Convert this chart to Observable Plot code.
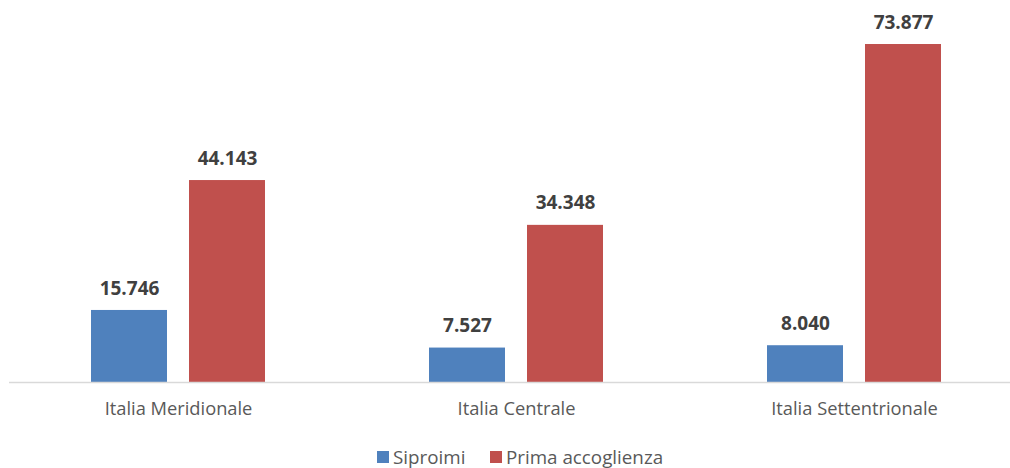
<!DOCTYPE html>
<html><head><meta charset="utf-8">
<script src="https://cdn.jsdelivr.net/npm/d3@7"></script>
<script src="https://cdn.jsdelivr.net/npm/@observablehq/plot@0.6"></script>
<style>
body{margin:0;background:#fff;width:1010px;height:468px;overflow:hidden;font-family:"Open Sans",sans-serif;}
#legend{position:relative;height:22px;font-size:18.8px;color:#595959;}
#legend .item{position:absolute;top:0;display:flex;align-items:center;height:22px;}
#legend .sw{width:12px;height:12px;display:inline-block;margin-right:4px;}
</style>
</head><body>
<div id="chart"></div>
<div id="legend"></div>
<script>
const regions = ["Italia Meridionale", "Italia Centrale", "Italia Settentrionale"];
const series = ["Siproimi", "Prima accoglienza"];
const siproimi = [15746, 7527, 8040];
const primaAccoglienza = [44143, 34348, 73877];
const colors = ["#4F81BD", "#C0504D"];

const data = regions.flatMap((r, i) => [
  {region: r, series: series[0], value: siproimi[i]},
  {region: r, series: series[1], value: primaAccoglienza[i]}
]);
const fmt = d3.formatLocale({decimal: ",", thousands: ".", grouping: [3], currency: ["", "€"]}).format(",");
const font = '"Open Sans",sans-serif';

const chart = Plot.plot({
  width: 1010,
  height: 446,
  marginTop: 16,
  marginBottom: 64,
  marginLeft: 9,
  marginRight: 0,
  style: {fontFamily: font, background: "#fff", overflow: "visible"},
  fx: {domain: regions, range: [9, 1023], padding: 0, label: null, axis: null},
  x: {domain: series, paddingInner: 0.228, paddingOuter: 0.835, axis: null},
  y: {domain: [0, 80000], axis: null},
  color: {domain: series, range: colors},
  marks: [
    Plot.axisFx({anchor: "bottom", tickSize: 0, tickPadding: 19, fontSize: 18.3, fill: "#595959", label: null}),
    Plot.barY(data, {fx: "region", x: "series", y: "value", fill: "series"}),
    Plot.ruleY([0], {stroke: "#d9d9d9", strokeWidth: 1.5}),
    Plot.text(data, {fx: "region", x: "series", y: "value", text: d => fmt(d.value), dy: -22, fontWeight: "bold", fontSize: 19, fill: "#404040"})
  ]
});
document.getElementById("chart").appendChild(chart);

const legend = document.getElementById("legend");
const lefts = [377, 490];
series.forEach((s, i) => {
  const it = document.createElement("div");
  it.className = "item";
  it.style.left = lefts[i] + "px";
  const sw = document.createElement("span");
  sw.className = "sw";
  sw.style.background = colors[i];
  it.appendChild(sw);
  it.appendChild(document.createTextNode(s));
  legend.appendChild(it);
});
</script>
</body></html>
